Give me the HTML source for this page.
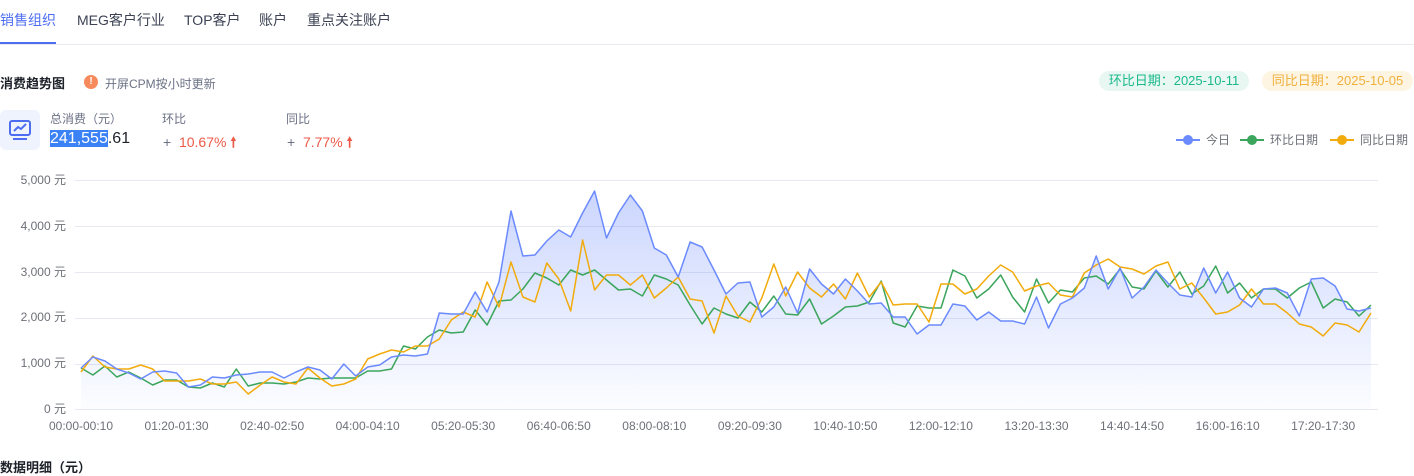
<!DOCTYPE html>
<html><head><meta charset="utf-8">
<style>
*{margin:0;padding:0;box-sizing:border-box}
body{width:1414px;height:468px;overflow:hidden;background:#fff;font-family:"Liberation Sans","Noto Sans CJK SC",sans-serif;position:relative;color:#1d2129}
.a{position:absolute;white-space:nowrap}
.tab{font-size:14px;color:#3c4254;top:10px}
.g{color:#6b7185}
</style></head><body>
<div class="a tab" style="left:0;color:#4e6ef2">销售组织</div>
<div class="a tab" style="left:77px">MEG客户行业</div>
<div class="a tab" style="left:184px">TOP客户</div>
<div class="a tab" style="left:259px">账户</div>
<div class="a tab" style="left:307px">重点关注账户</div>
<div class="a" style="left:0;top:42px;width:56px;height:2px;background:#4e6ef2"></div>
<div class="a" style="left:0;top:44px;width:1414px;height:1px;background:#e8eaf0"></div>

<div class="a" style="left:0;top:73px;font-size:13px;font-weight:bold;color:#1d2129">消费趋势图</div>
<div class="a" style="left:84px;top:75px;width:14px;height:14px;border-radius:50%;background:#f78a5c;color:#fff;font-size:10px;font-weight:bold;text-align:center;line-height:14px">!</div>
<div class="a g" style="left:105px;top:75px;font-size:12px">开屏CPM按小时更新</div>

<div class="a" style="left:1099px;top:71px;width:150px;height:20px;border-radius:10px;background:#e9f7f3;color:#19b98a;font-size:13px;text-align:center;line-height:20px">环比日期：2025-10-11</div>
<div class="a" style="left:1262px;top:71px;width:151px;height:20px;border-radius:10px;background:#fdf4e2;color:#f0b13c;font-size:13px;text-align:center;line-height:20px">同比日期：2025-10-05</div>

<div class="a" style="left:0;top:110px;width:40px;height:40px;border-radius:6px;background:#eef3fe"></div>
<svg class="a" style="left:8px;top:118px" width="24" height="24" viewBox="0 0 24 24"><rect x="2" y="3" width="20" height="14" rx="2" fill="none" stroke="#4e6ef2" stroke-width="2"/><polyline points="6,13 10,9 13,11 18,6" fill="none" stroke="#4e6ef2" stroke-width="2"/><line x1="5" y1="21" x2="19" y2="21" stroke="#4e6ef2" stroke-width="2"/></svg>
<div class="a g" style="left:50px;top:110px;font-size:12px">总消费（元）</div>
<div class="a" style="left:50px;top:130px;font-size:16px;color:#1d2129"><span style="background:#3b82f6;color:#fff">241,555</span>.61</div>
<div class="a g" style="left:162px;top:110px;font-size:12px">环比</div>
<div class="a" style="left:163px;top:132px;font-size:14px;color:#ec5a48"><span style="color:#6b7185">+</span>&nbsp; 10.67% <b>&#129045;</b></div>
<div class="a g" style="left:286px;top:110px;font-size:12px">同比</div>
<div class="a" style="left:287px;top:132px;font-size:14px;color:#ec5a48"><span style="color:#6b7185">+</span>&nbsp; 7.77% <b>&#129045;</b></div>

<svg class="a" style="left:0;top:0" width="1414" height="468" id="ch">
<defs><linearGradient id="gr" x1="0" y1="0" x2="0" y2="1"><stop offset="0" stop-color="#6b8afd" stop-opacity="0.35"/><stop offset="1" stop-color="#6b8afd" stop-opacity="0.02"/></linearGradient></defs>
<g font-size="12" fill="#6e7079" font-family="Liberation Sans,Noto Sans CJK SC,sans-serif">
<line x1="1176" y1="140" x2="1200" y2="140" stroke="#6b8afd" stroke-width="2"/><circle cx="1188" cy="140" r="5" fill="#6b8afd"/><text x="1206" y="144">今日</text>
<line x1="1240" y1="140" x2="1264" y2="140" stroke="#3ba55c" stroke-width="2"/><circle cx="1252" cy="140" r="5" fill="#3ba55c"/><text x="1270" y="144">环比日期</text>
<line x1="1330" y1="140" x2="1354" y2="140" stroke="#f2ab0c" stroke-width="2"/><circle cx="1342" cy="140" r="5" fill="#f2ab0c"/><text x="1360" y="144">同比日期</text>
<text x="66" y="184" text-anchor="end">5,000 元</text>
<text x="66" y="230" text-anchor="end">4,000 元</text>
<text x="66" y="276" text-anchor="end">3,000 元</text>
<text x="66" y="321" text-anchor="end">2,000 元</text>
<text x="66" y="367" text-anchor="end">1,000 元</text>
<text x="66" y="413" text-anchor="end">0 元</text>
</g>
<g stroke="#e6e8f2" stroke-width="1">
<line x1="75" y1="180.5" x2="1378" y2="180.5"/><line x1="75" y1="226.5" x2="1378" y2="226.5"/><line x1="75" y1="272.5" x2="1378" y2="272.5"/><line x1="75" y1="318.5" x2="1378" y2="318.5"/><line x1="75" y1="364.5" x2="1378" y2="364.5"/><line x1="75" y1="409.5" x2="1378" y2="409.5"/>
</g>
<g id="xl" font-size="12" fill="#6e7079" text-anchor="middle" font-family="Liberation Sans,sans-serif"></g>
<g id="ser"></g>
</svg>
<div class="a" style="left:0;top:457px;font-size:13px;font-weight:bold;color:#1d2129">数据明细（元）</div>
<script>
var B=[368,357,361,369,373,379,372,371,373,387,385,377,378,375,374,372,372,378,372,367,370,379,364,376,367,365,357,
355,356,354,313,314,314,292,312,282,211,256,255,241,230,237,213,191,238,213,195,211,248,255,277,242,247,270,294,
283,282,317,307,287,313,269,284,294,279,291,304,303,317,317,334,325,325,304,306,320,312,321,321,324,297,328,
304,298,288,256,289,268,298,287,270,283,295,297,268,293,272,298,307,289,288,293,316,279,278,286,309,311,308];
var G=[368,375,366,377,372,378,385,380,380,387,388,383,387,369,386,383,383,384,382,378,379,378,378,378,371,371,369,
346,349,337,330,333,332,310,325,301,300,289,273,278,285,270,275,270,280,290,289,296,275,279,285,305,324,308,314,
318,302,312,296,314,315,299,324,316,307,306,302,281,323,327,306,308,308,270,276,298,289,275,297,312,279,303,
290,292,278,276,284,269,287,289,271,287,272,294,286,266,293,283,298,289,289,298,288,282,308,299,302,316,305];
var O=[372,356,367,369,369,365,369,381,381,381,379,384,384,382,394,385,377,382,384,368,378,386,384,379,359,354,350,
352,346,346,339,320,312,317,282,307,262,297,302,263,279,311,240,290,275,275,285,275,298,288,277,299,301,333,296,
316,322,298,264,296,272,288,297,284,299,273,297,282,305,304,304,322,284,284,294,289,276,265,272,291,286,283,
295,297,273,265,259,267,269,274,266,262,289,283,298,314,312,305,289,304,304,313,324,327,336,323,325,332,313];
function X(i){return 81+i*11.944;}
function pts(a){return a.map(function(y,i){return X(i).toFixed(1)+","+y}).join(" ");}
var ns="http://www.w3.org/2000/svg",s=document.getElementById("ser");
function el(t,at){var e=document.createElementNS(ns,t);for(var k in at)e.setAttribute(k,at[k]);s.appendChild(e);}
el("polygon",{points:pts(B)+" "+X(108)+",409 81,409",fill:"url(#gr)"});
el("polyline",{points:pts(G),fill:"none",stroke:"#3ba55c","stroke-width":1.5,"stroke-linejoin":"round"});
el("polyline",{points:pts(O),fill:"none",stroke:"#f2ab0c","stroke-width":1.5,"stroke-linejoin":"round"});
el("polyline",{points:pts(B),fill:"none",stroke:"#6b8afd","stroke-width":1.5,"stroke-linejoin":"round"});
var labs=["00:00-00:10","01:20-01:30","02:40-02:50","04:00-04:10","05:20-05:30","06:40-06:50","08:00-08:10","09:20-09:30","10:40-10:50","12:00-12:10","13:20-13:30","14:40-14:50","16:00-16:10","17:20-17:30"];
var xl=document.getElementById("xl");
labs.forEach(function(l,k){var t=document.createElementNS(ns,"text");t.setAttribute("x",X(k*8));t.setAttribute("y",430);t.textContent=l;xl.appendChild(t);});
</script>
</body></html>
